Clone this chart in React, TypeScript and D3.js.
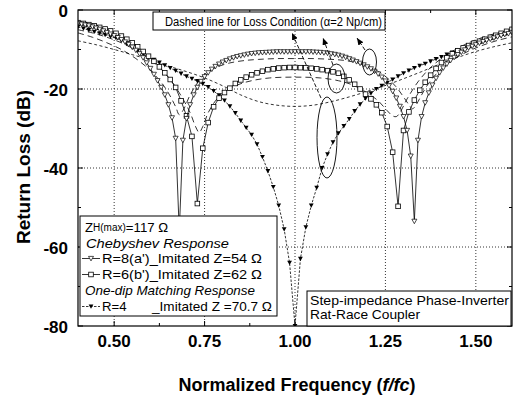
import React from 'react';
import * as d3 from 'd3';

const W = 516;
const H = 400;
const PLOT = { left: 78, right: 512, top: 10, bottom: 326 };
const FONT = "'Liberation Sans', Arial, Helvetica, sans-serif";

const FREQ_DOMAIN: [number, number] = [0.4, 1.6];
const DB_DOMAIN: [number, number] = [-80, 0];
const xMajorTicks = [0.5, 0.75, 1.0, 1.25, 1.5];
const xMinorTicks = [0.625, 0.875, 1.125, 1.375];
const yMajorTicks = [0, -20, -40, -60, -80];
const yMinorTicks = [-10, -30, -50, -70];
const xGrid = [0.5, 0.75, 1.0, 1.25, 1.5];
const yGrid = [-20, -40, -60];

// R=8 (a') Chebyshev response, sampled every 0.01 from 0.40
const r8Start = 0.4;
const r8Step = 0.01;
const r8Values = [
  -3.4, -3.6, -3.8, -4.0, -4.3, -4.6, -4.9, -5.3, -5.7, -6.1,
  -6.5, -7.0, -7.5, -8.1, -8.7, -9.4, -10.2, -11.1, -12.1, -13.4,
  -14.8, -16.3, -17.9, -19.6, -21.5, -24.0, -27.3, -32.5, -56.0, -33.0,
  -27.5, -24.0, -21.5, -19.6, -18.1, -16.9, -15.9, -15.0, -14.3, -13.7,
  -13.2, -12.8, -12.4, -12.1, -11.8, -11.6, -11.4, -11.2, -11.05, -10.95,
  -10.85, -10.8, -10.75, -10.7, -10.65, -10.6, -10.6, -10.6, -10.6, -10.6,
  -10.6, -10.6, -10.6, -10.6, -10.6, -10.65, -10.7, -10.75, -10.85, -10.95,
  -11.1, -11.25, -11.45, -11.7, -12.0, -12.35, -12.7, -13.1, -13.5, -13.9,
  -14.4, -14.9, -15.5, -16.2, -17.0, -18.0, -19.2, -20.6, -22.3, -24.4,
  -27.0, -30.5, -37.0, -53.5, -33.0, -27.0, -23.5, -21.0, -19.0, -17.3,
  -15.9, -14.7, -13.7, -12.8, -12.0, -11.3, -10.7, -10.1, -9.6, -9.2,
  -8.8, -8.4, -8.0, -7.7, -7.4, -7.1, -6.8, -6.5, -6.2, -6.0,
  -5.7,
];

// R=6 (b') Chebyshev response, sampled every 0.015 from 0.40
const r6Start = 0.4;
const r6Step = 0.015;
const r6Values = [
  -3.2, -3.4, -3.7, -4.0, -4.4, -4.8, -5.3, -5.9, -6.6, -7.4,
  -8.3, -9.3, -10.5, -11.7, -13.0, -14.4, -15.9, -17.6, -19.6, -23.0,
  -26.8, -32.0, -49.0, -35.0, -28.5, -24.5, -22.3, -20.9, -19.8, -18.6,
  -17.7, -17.0, -16.4, -15.9, -15.5, -15.1, -14.9, -14.7, -14.6, -14.55,
  -14.55, -14.6, -14.65, -14.75, -14.9, -15.1, -15.35, -15.65, -16.0, -16.8,
  -17.7, -18.8, -20.0, -21.3, -22.5, -24.0, -26.0, -29.5, -36.0, -49.7,
  -30.5, -25.8, -22.8, -20.3, -18.3, -16.5, -14.8, -13.3, -12.1, -11.1,
  -10.3, -9.6, -9.0, -8.4, -7.9, -7.4, -6.9, -6.4, -5.9, -5.4,
  -4.9,
];

// R=4 one-dip matching response, sampled every 0.015 from 0.40
const r4Start = 0.4;
const r4Step = 0.015;
const r4Values = [
  -4.3, -4.7, -5.1, -5.5, -5.9, -6.3, -6.7, -7.1, -7.8, -8.6,
  -9.5, -10.3, -11.1, -11.9, -12.6, -13.3, -14.0, -14.7, -15.4, -16.1,
  -16.8, -17.4, -18.0, -18.7, -19.5, -20.5, -21.6, -22.9, -24.4, -26.1,
  -28.0, -29.8, -31.6, -34.0, -37.2, -40.8, -44.8, -49.5, -55.5, -64.0,
  -80.0, -63.0, -55.0, -49.5, -45.0, -40.0, -36.5, -33.5, -31.2, -29.4,
  -27.6, -25.6, -23.9, -22.4, -21.1, -20.0, -19.2, -18.4, -17.6, -16.8,
  -16.0, -15.3, -14.7, -14.1, -13.6, -13.0, -12.4, -11.9, -11.3, -10.8,
  -10.2, -9.7, -9.2, -8.7, -8.2, -7.7, -7.3, -6.8, -6.4, -6.0,
  -5.6,
];

// Lossy responses (alpha = 2 Np/cm)
const lossR8Freq = [
  0.4, 0.44, 0.48, 0.52, 0.56, 0.6, 0.63, 0.65, 0.67, 0.68, 0.69, 0.71, 0.73,
  0.75, 0.78, 0.82, 0.86, 0.9, 0.95, 1.0, 1.05, 1.1, 1.14, 1.18, 1.22, 1.25,
  1.28, 1.3, 1.315, 1.325, 1.335, 1.35, 1.37, 1.4, 1.44, 1.48, 1.52, 1.56, 1.6,
];
const lossR8Values = [
  -5.8, -6.9, -8.3, -10.0, -12.3, -15.3, -18.3, -21.0, -24.5, -26.5, -25.5, -21.5, -18.5,
  -16.3, -14.6, -13.4, -12.8, -12.5, -12.3, -12.3, -12.3, -12.5, -12.8, -13.6, -15.0, -16.8,
  -19.5, -22.0, -24.0, -25.0, -24.0, -21.5, -18.5, -15.3, -12.4, -10.4, -8.9, -7.7, -6.8,
];

const lossR6Freq = [
  0.4, 0.44, 0.48, 0.52, 0.56, 0.6, 0.63, 0.66, 0.69, 0.71, 0.725, 0.735, 0.745,
  0.76, 0.78, 0.8, 0.84, 0.88, 0.93, 1.0, 1.07, 1.12, 1.16, 1.2, 1.23, 1.255,
  1.27, 1.28, 1.29, 1.31, 1.34, 1.37, 1.4, 1.44, 1.48, 1.52, 1.56, 1.6,
];
const lossR6Values = [
  -5.0, -5.8, -6.9, -8.3, -10.2, -12.6, -15.0, -18.2, -22.5, -26.0, -29.5, -31.0, -29.5,
  -26.0, -23.0, -21.0, -19.0, -17.9, -17.2, -17.0, -17.2, -17.9, -19.0, -21.0, -23.0, -25.5,
  -26.8, -27.0, -26.0, -22.5, -18.2, -15.0, -12.6, -10.2, -8.3, -6.9, -5.8, -5.0,
];

const lossR4Freq = [
  0.4, 0.45, 0.5, 0.55, 0.6, 0.65, 0.7, 0.75, 0.8, 0.85, 0.9, 0.95, 1.0,
  1.05, 1.1, 1.15, 1.2, 1.25, 1.3, 1.35, 1.4, 1.45, 1.5, 1.55, 1.6,
];
const lossR4Values = [
  -7.8, -8.8, -10.0, -11.3, -12.7, -14.2, -15.6, -17.2, -19.2, -21.5, -23.2, -24.1, -24.4,
  -24.1, -23.2, -22.0, -20.6, -19.1, -17.4, -15.6, -13.7, -12.0, -10.5, -9.3, -8.3,
];

type Pt = [number, number];

const sampled = (start: number, step: number, vals: number[]): Pt[] =>
  vals.map((v, i) => [+(start + i * step).toFixed(4), v]);
const paired = (fs: number[], vals: number[]): Pt[] => fs.map((f, i) => [f, vals[i]]);

const triDown = (s: number) => `M${-s},${-s * 0.85}L${s},${-s * 0.85}L0,${s * 0.95}Z`;

export default function App() {
  const x = d3.scaleLinear().domain(FREQ_DOMAIN).range([PLOT.left, PLOT.right]);
  const y = d3.scaleLinear().domain(DB_DOMAIN).range([PLOT.bottom, PLOT.top]);

  const r8 = sampled(r8Start, r8Step, r8Values);
  const r6 = sampled(r6Start, r6Step, r6Values);
  const r4 = sampled(r4Start, r4Step, r4Values);
  const l8 = paired(lossR8Freq, lossR8Values);
  const l6 = paired(lossR6Freq, lossR6Values);
  const l4 = paired(lossR4Freq, lossR4Values);

  const straight = d3.line<Pt>().x((d) => x(d[0])).y((d) => y(d[1]));
  const smooth = d3
    .line<Pt>()
    .x((d) => x(d[0]))
    .y((d) => y(d[1]))
    .curve(d3.curveCatmullRom.alpha(0.5));

  const ink = '#000';

  return (
    <svg
      width={W}
      height={H}
      viewBox={`0 0 ${W} ${H}`}
      style={{ position: 'absolute', left: 0, top: 0, background: '#fff' }}
      fontFamily={FONT}
    >
      <defs>
        <clipPath id="plotClip">
          <rect x={PLOT.left} y={PLOT.top} width={PLOT.right - PLOT.left} height={PLOT.bottom - PLOT.top} />
        </clipPath>
        <marker
          id="arrowUp"
          markerUnits="userSpaceOnUse"
          markerWidth={8}
          markerHeight={6}
          refX={7}
          refY={3}
          orient="auto"
        >
          <path d="M0,0L7,3L0,6Z" fill={ink} />
        </marker>
      </defs>

      <rect x={0} y={0} width={W} height={H} fill="#fff" />

      {/* grid */}
      <g stroke={ink} strokeWidth={0.8} strokeDasharray="1,2">
        {xGrid.map((t) => (
          <line key={`gx${t}`} x1={x(t)} x2={x(t)} y1={PLOT.top} y2={PLOT.bottom} />
        ))}
        {yGrid.map((t) => (
          <line key={`gy${t}`} x1={PLOT.left} x2={PLOT.right} y1={y(t)} y2={y(t)} />
        ))}
      </g>

      {/* curves */}
      <g clipPath="url(#plotClip)" fill="none">
        <path d={smooth(l4) || ''} stroke={ink} strokeWidth={0.8} strokeDasharray="3,2.5" />
        <path d={smooth(l6) || ''} stroke={ink} strokeWidth={0.8} strokeDasharray="6,4" />
        <path d={smooth(l8) || ''} stroke={ink} strokeWidth={0.8} strokeDasharray="6,4" />

        <path d={straight(r4) || ''} stroke={ink} strokeWidth={0.8} strokeDasharray="2.5,1.5" />
        {r4.map((d, i) => (
          <path key={`m4${i}`} d={triDown(2.4)} transform={`translate(${x(d[0])},${y(d[1])})`} fill={ink} />
        ))}

        <path d={straight(r6) || ''} stroke={ink} strokeWidth={0.8} />
        {r6.map((d, i) => (
          <rect
            key={`m6${i}`}
            x={x(d[0]) - 2.3}
            y={y(d[1]) - 2.3}
            width={4.6}
            height={4.6}
            fill="#fff"
            stroke={ink}
            strokeWidth={0.8}
          />
        ))}

        <path d={straight(r8) || ''} stroke={ink} strokeWidth={0.8} />
        {r8.map((d, i) => (
          <path
            key={`m8${i}`}
            d={triDown(2.5)}
            transform={`translate(${x(d[0])},${y(d[1])})`}
            fill="#fff"
            stroke={ink}
            strokeWidth={0.7}
          />
        ))}
      </g>

      {/* frame and ticks */}
      <rect
        x={PLOT.left}
        y={PLOT.top}
        width={PLOT.right - PLOT.left}
        height={PLOT.bottom - PLOT.top}
        fill="none"
        stroke={ink}
        strokeWidth={1.2}
      />
      <g stroke={ink} strokeWidth={1}>
        {xMajorTicks.map((t) => (
          <g key={`xt${t}`}>
            <line x1={x(t)} x2={x(t)} y1={PLOT.bottom} y2={PLOT.bottom - 5} />
            <line x1={x(t)} x2={x(t)} y1={PLOT.top} y2={PLOT.top + 5} />
          </g>
        ))}
        {xMinorTicks.map((t) => (
          <g key={`xm${t}`}>
            <line x1={x(t)} x2={x(t)} y1={PLOT.bottom} y2={PLOT.bottom - 3} />
            <line x1={x(t)} x2={x(t)} y1={PLOT.top} y2={PLOT.top + 3} />
          </g>
        ))}
        {yMajorTicks.map((t) => (
          <g key={`yt${t}`}>
            <line x1={PLOT.left} x2={PLOT.left + 5} y1={y(t)} y2={y(t)} />
            <line x1={PLOT.right} x2={PLOT.right - 5} y1={y(t)} y2={y(t)} />
          </g>
        ))}
        {yMinorTicks.map((t) => (
          <g key={`ym${t}`}>
            <line x1={PLOT.left} x2={PLOT.left + 3} y1={y(t)} y2={y(t)} />
            <line x1={PLOT.right} x2={PLOT.right - 3} y1={y(t)} y2={y(t)} />
          </g>
        ))}
      </g>

      {/* tick labels */}
      <g fontWeight="bold" fontSize={17} fill={ink}>
        {xMajorTicks.map((t) => (
          <text key={`xl${t}`} x={x(t)} y={341} textAnchor="middle" dominantBaseline="central">
            {t.toFixed(2)}
          </text>
        ))}
        {yMajorTicks.map((t) => (
          <text key={`yl${t}`} x={68} y={y(t) + 1} textAnchor="end" dominantBaseline="central">
            {t}
          </text>
        ))}
      </g>

      {/* axis titles */}
      <text x={297} y={385} textAnchor="middle" dominantBaseline="central" fontWeight="bold" fontSize={18}>
        Normalized Frequency (<tspan fontStyle="italic">f/fc</tspan>)
      </text>
      <text
        transform="translate(23,167) rotate(-90)"
        textAnchor="middle"
        dominantBaseline="central"
        fontWeight="bold"
        fontSize={19}
      >
        Return Loss (dB)
      </text>

      {/* loss annotation */}
      <rect x={153} y={12} width={232} height={18} fill="#fff" stroke={ink} strokeWidth={1} />
      <text x={165} y={21.5} dominantBaseline="central" fontSize={12.5} textLength={217} lengthAdjust="spacingAndGlyphs">
        Dashed line for Loss Condition (α=2 Np/cm)
      </text>
      <g fill="none" stroke={ink} strokeWidth={0.9}>
        <ellipse cx={327} cy={137.5} rx={10} ry={40.5} />
        <ellipse cx={336.5} cy={78.5} rx={8.5} ry={14.5} />
        <ellipse cx={369.5} cy={62} rx={7} ry={13} />
        <g strokeDasharray="4,2">
          <line x1={321} y1={98} x2={292} y2={33} markerEnd="url(#arrowUp)" />
          <line x1={333} y1={65} x2={323} y2={38} markerEnd="url(#arrowUp)" />
          <line x1={365} y1={50} x2={357} y2={38} markerEnd="url(#arrowUp)" />
        </g>
      </g>

      {/* legend */}
      <g fontSize={13.2} fill={ink}>
        <rect x={80} y={216} width={197} height={100} fill="#fff" stroke={ink} strokeWidth={1} />
        <text x={85} y={227} dominantBaseline="central">
          Z<tspan fontSize={10}>H(max)</tspan>=117 Ω
        </text>
        <text x={86} y={243} dominantBaseline="central" fontStyle="italic" textLength={143} lengthAdjust="spacingAndGlyphs">
          Chebyshev Response
        </text>
        <line x1={82} x2={100} y1={258.5} y2={258.5} stroke={ink} strokeWidth={0.8} />
        <path d={triDown(2.5)} transform="translate(91,258.5)" fill="#fff" stroke={ink} strokeWidth={0.7} />
        <text x={102} y={258.5} dominantBaseline="central" textLength={160} lengthAdjust="spacingAndGlyphs">
          R=8(a')_Imitated Z=54 Ω
        </text>
        <line x1={82} x2={100} y1={274.5} y2={274.5} stroke={ink} strokeWidth={0.8} />
        <rect x={88.7} y={272.2} width={4.6} height={4.6} fill="#fff" stroke={ink} strokeWidth={0.8} />
        <text x={102} y={274.5} dominantBaseline="central" textLength={160} lengthAdjust="spacingAndGlyphs">
          R=6(b')_Imitated Z=62 Ω
        </text>
        <text x={85} y={290.5} dominantBaseline="central" fontStyle="italic" textLength={170} lengthAdjust="spacingAndGlyphs">
          One-dip Matching Response
        </text>
        <line x1={82} x2={100} y1={306.5} y2={306.5} stroke={ink} strokeWidth={0.8} strokeDasharray="2.5,1.5" />
        <path d={triDown(2.4)} transform="translate(91,306.5)" fill={ink} />
        <text x={102} y={306.5} dominantBaseline="central">
          R=4
        </text>
        <text x={152} y={306.5} dominantBaseline="central" textLength={120} lengthAdjust="spacingAndGlyphs">
          _Imitated Z =70.7 Ω
        </text>
      </g>

      {/* device label */}
      <g fontSize={12.6} fill={ink}>
        <rect x={307} y={291} width={204} height={35} fill="#fff" stroke={ink} strokeWidth={1} />
        <text x={310} y={301} dominantBaseline="central" textLength={199} lengthAdjust="spacingAndGlyphs">
          Step-impedance Phase-Inverter
        </text>
        <text x={310} y={315} dominantBaseline="central" textLength={110} lengthAdjust="spacingAndGlyphs">
          Rat-Race Coupler
        </text>
      </g>
    </svg>
  );
}
